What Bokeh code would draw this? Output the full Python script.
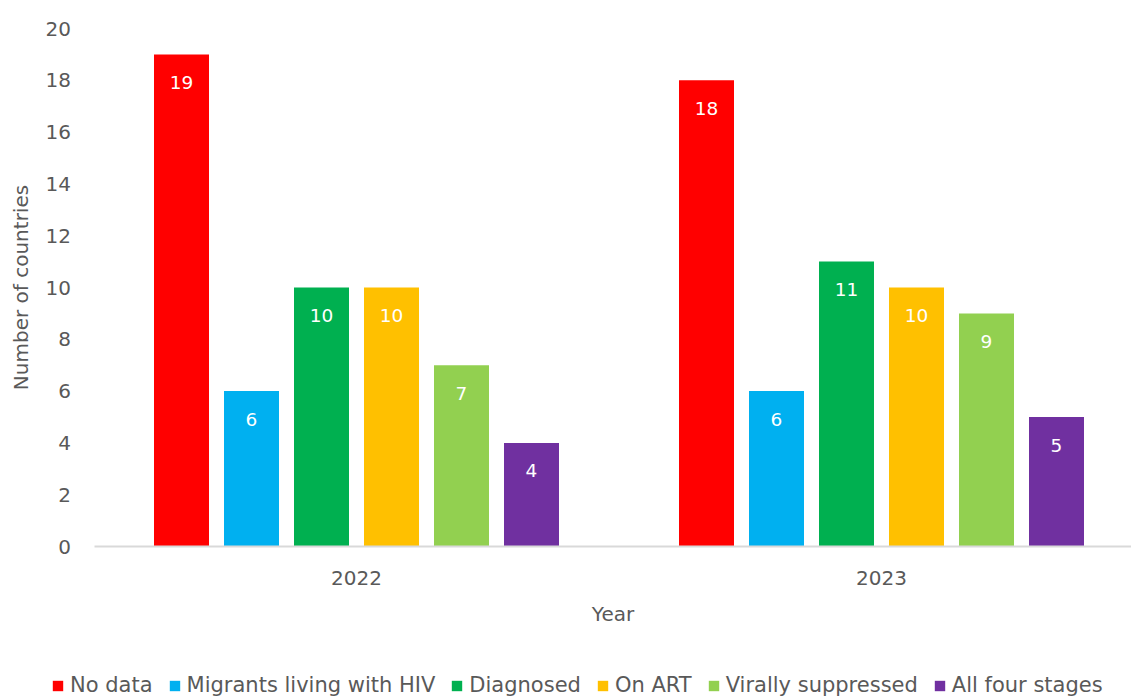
from bokeh.plotting import figure
from bokeh.models import (ColumnDataSource, Range1d, FixedTicker, Legend, LegendItem,
                          LabelSet, LinearAxis)
from bokeh.core.properties import value
from bokeh.embed import file_html
from bokeh.resources import INLINE

years = ["2022", "2023"]
series = ["No data", "Migrants living with HIV", "Diagnosed", "On ART",
          "Virally suppressed", "All four stages"]
colors = ["#FF0000", "#00B0F0", "#00B050", "#FFC000", "#92D050", "#7030A0"]
no_data = [19, 18]
migrants = [6, 6]
diagnosed = [10, 11]
on_art = [10, 10]
virally_suppressed = [7, 9]
all_four = [4, 5]
y_ticks = [0, 2, 4, 6, 8, 10, 12, 14, 16, 18, 20]

values = [no_data, migrants, diagnosed, on_art, virally_suppressed, all_four]

FONT = "DejaVu Sans"
GREY = "#595959"

W, H = 1131, 697
unit = 525.0            # px per category
ppu = 518.0 / 20        # px per y unit
x0 = -0.5 - 93.5 / unit
y0 = -(H - 546) / ppu

p = figure(width=W, height=H, output_backend="svg", toolbar_location=None,
           x_range=Range1d(x0, x0 + W / unit),
           y_range=Range1d(y0, y0 + H / ppu),
           x_axis_location=None, y_axis_location=None,
           min_border=0, min_border_top=0, min_border_left=0,
           min_border_right=0, min_border_bottom=0)
p.outline_line_color = None
p.grid.visible = False

n = len(series)
pitch = 70 / unit
bw = 55 / unit
items = []
for i, (name, vals, col) in enumerate(zip(series, values, colors)):
    off = (i - (n - 1) / 2) * pitch
    xs = [k + off for k in range(len(years))]
    src = ColumnDataSource(dict(x=xs, top=vals, lab=[str(v) for v in vals]))
    r = p.vbar(x="x", top="top", bottom=0, width=bw, color=col, line_color=None,
               source=src)
    items.append(LegendItem(label=name, renderers=[r]))
    ls = LabelSet(x="x", y="top", text="lab", source=src, y_offset=-28,
                  text_align="center", text_baseline="middle",
                  text_color="white", text_font=value(FONT), text_font_size="18.5px")
    p.add_layout(ls)

xaxis = LinearAxis(fixed_location=0, bounds=(-0.5, x0 + W / unit))
yaxis = LinearAxis(fixed_location=-0.5, bounds=(0, 20))
p.add_layout(xaxis, "below")
p.add_layout(yaxis, "left")

for ax in (xaxis, yaxis):
    ax.major_tick_line_color = None
    ax.minor_tick_line_color = None
    ax.major_tick_out = 0
    ax.major_tick_in = 0
    ax.minor_tick_out = 0
    ax.minor_tick_in = 0
    ax.major_label_text_font = FONT
    ax.major_label_text_font_size = "20px"
    ax.major_label_text_color = GREY
    ax.axis_label_text_font = FONT
    ax.axis_label_text_font_size = "20px"
    ax.axis_label_text_font_style = "normal"
    ax.axis_label_text_color = GREY

xaxis.ticker = FixedTicker(ticks=list(range(len(years))))
xaxis.major_label_overrides = {k: y for k, y in enumerate(years)}
xaxis.axis_line_color = "#D9D9D9"
xaxis.axis_line_width = 2
xaxis.major_label_standoff = 24
xaxis.axis_label = "Year"
xaxis.axis_label_standoff = 14

yaxis.ticker = FixedTicker(ticks=y_ticks)
yaxis.axis_line_color = None
yaxis.major_label_standoff = 23
yaxis.axis_label = "Number of countries"
yaxis.axis_label_standoff = 10

legend = Legend(items=items, orientation="horizontal", location=(51, 0),
                border_line_color=None, background_fill_alpha=0,
                label_text_font=FONT, label_text_font_size="21px",
                label_text_color=GREY, glyph_width=13, glyph_height=13,
                label_standoff=6, spacing=15, padding=0, margin=0)
p.add_layout(legend, "center")

open("out.html", "w").write(file_html(p, INLINE))
